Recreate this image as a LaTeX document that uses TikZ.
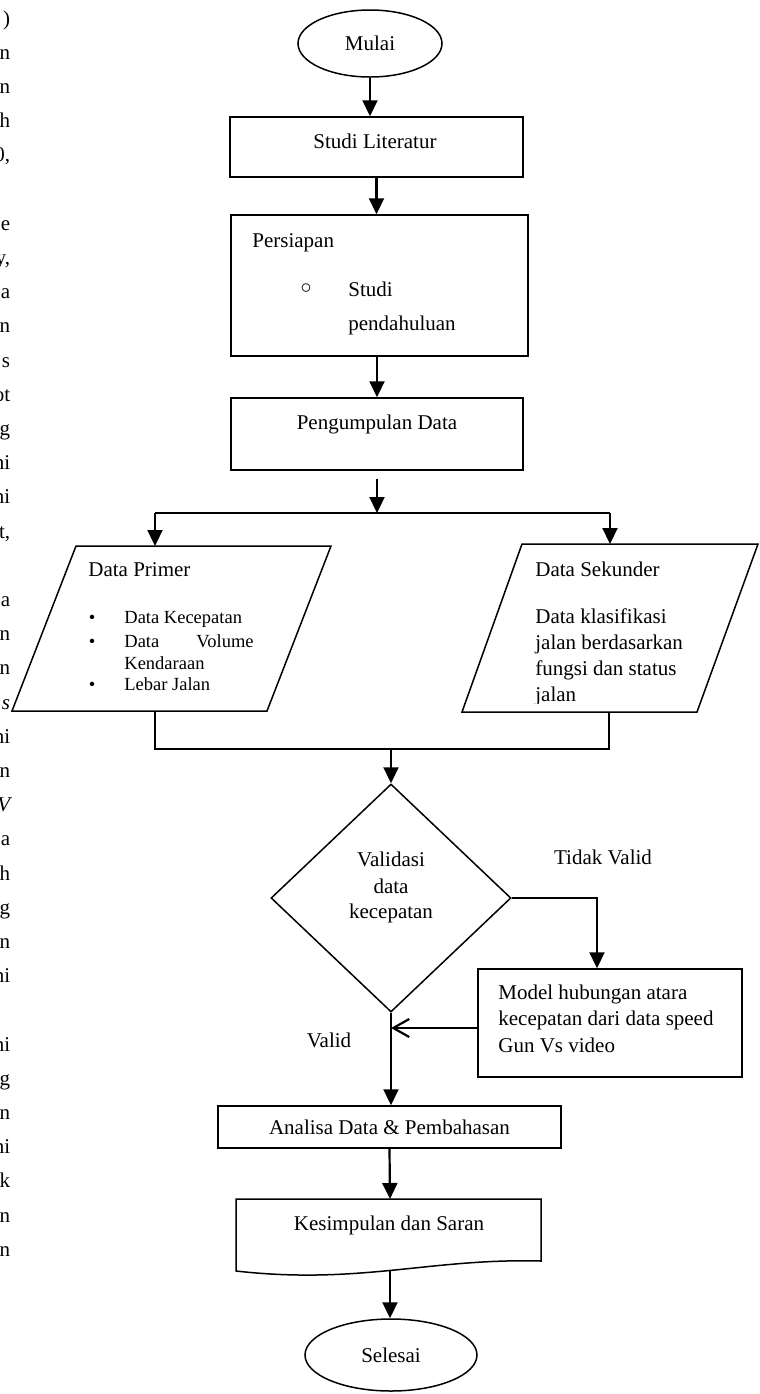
\documentclass[tikz,border=0pt]{standalone}
\usepackage{fontspec}
\setmainfont{Liberation Serif}
\usetikzlibrary{shapes.geometric,arrows.meta}

\begin{document}
\begin{tikzpicture}[
  x = 0.5pt, y = -0.5pt,
  every node/.style = {font = \fontsize{10.5}{12.6}\selectfont, inner sep = 0pt},
  terminal/.style = {draw, ellipse, line width = 0.75pt},
  box/.style = {draw, rectangle, line width = 0.75pt},
  decision/.style = {draw, diamond, line width = 0.75pt, minimum width = 120pt, minimum height = 114pt},
  small/.style = {font = \fontsize{9.25}{11}\selectfont},
  link/.style = {line width = 0.75pt},
  arr/.style = {-{Triangle[length = 8pt, width = 7.5pt]}, line width = 1.1pt},
  back/.style = {-{Straight Barb[length = 8pt, width = 9pt]}, line width = 1.1pt},
  ]
  \useasboundingbox (0,0) rectangle (760,1394);

  \foreach \r/\t in {0/{)},1/n,2/n,3/h,4/{0,},6/e,7/{y,},8/a,9/n,10/s,11/ot,12/g,13/ni,14/ni,15/{t,},
                     17/a,18/n,19/n,20/{\itshape s},21/ni,22/n,23/{\itshape V},24/a,25/h,26/g,27/n,28/ni,
                     30/ni,31/g,32/n,33/ni,34/k,35/n,36/n}
    \node[anchor = base east] (tepi-\r) at (10.5, 25+34.2*\r) {\t};

  \node[terminal, minimum width = 72pt, minimum height = 33.5pt] (mulai) at (370,43.5) {Mulai};

  \node[box, minimum width = 146.5pt, minimum height = 30pt] (studi) at (376.5,147) {};
  \node[anchor = base] (studi-t) at (375,148) {Studi Literatur};

  \node[box, minimum width = 148.5pt, minimum height = 70.5pt] (siap) at (379.5,285.5) {};
  \node[anchor = base west] (siap-t) at (252,247) {Persiapan};
  \node (siap-o) at (306,289) {$\circ$};
  \node[anchor = base west] (siap-a) at (348,296) {Studi};
  \node[anchor = base west] (siap-b) at (348,330) {pendahuluan};

  \node[box, minimum width = 146pt, minimum height = 36pt] (kumpul) at (377,434) {};
  \node[anchor = base] (kumpul-t) at (377,429) {Pengumpulan Data};

  \coordinate (split) at (377,513);
  \coordinate (primer-in) at (155,546);
  \coordinate (primer-out) at (155,711);
  \coordinate (sekunder-in) at (610,544);
  \coordinate (sekunder-out) at (609,712);
  \coordinate (merge) at (391,749);

  \draw[link] (76,546) -- (331,546) -- (267,711) -- (12,711) -- cycle;
  \node[anchor = base west] (primer-t) at (88,576) {Data Primer};
  \node[small, anchor = base] (primer-b1) at (92,623) {\textbullet};
  \node[small, anchor = base] (primer-b2) at (92,647) {\textbullet};
  \node[small, anchor = base] (primer-b3) at (92,690) {\textbullet};
  \node[small, anchor = base west] (primer-1) at (124,623) {Data Kecepatan};
  \node[small, anchor = base west] (primer-2) at (124,647) {Data};
  \node[small, anchor = base east] (primer-3) at (254,647) {Volume};
  \node[small, anchor = base west] (primer-4) at (124,669) {Kendaraan};
  \node[small, anchor = base west] (primer-5) at (124,690) {Lebar Jalan};

  \draw[link] (522,544) -- (758,544) -- (697,712) -- (462,712) -- cycle;
  \node[anchor = base west] (sekunder-t) at (535,576) {Data Sekunder};
  \node[anchor = base west] (sekunder-1) at (535,623) {Data klasifikasi};
  \node[anchor = base west] (sekunder-2) at (535,649) {jalan berdasarkan};
  \node[anchor = base west] (sekunder-3) at (535,675) {fungsi dan status};
  \begin{scope}
    \clip (462,544) rectangle (758,703);
    \node[anchor = base west] (sekunder-4) at (535,701) {jalan};
  \end{scope}

  \node[decision] (valid) at (391,898) {};
  \node[anchor = base] (valid-1) at (391,866) {Validasi};
  \node[anchor = base] (valid-2) at (391,893) {data};
  \node[anchor = base] (valid-3) at (391,918) {kecepatan};
  \node[anchor = base] (tidak) at (603,864) {Tidak Valid};
  \node[anchor = base] (ya) at (329,1047) {Valid};

  \node[box, minimum width = 132pt, minimum height = 54pt] (model) at (610,1023) {};
  \node[anchor = base west] (model-1) at (498,999) {Model hubungan atara};
  \node[anchor = base west] (model-2) at (498,1025) {kecepatan dari data speed};
  \node[anchor = base west] (model-3) at (498,1052) {Gun Vs video};

  \node[box, minimum width = 171.5pt, minimum height = 21pt] (analisa) at (389.5,1127) {Analisa Data \& Pembahasan};

  \draw[link] (236,1199) -- (541,1199) -- (541,1261) .. controls (430,1258) and (360,1285) .. (236,1271) -- cycle;
  \node[anchor = base] (simpul-t) at (389,1230) {Kesimpulan dan Saran};
  \coordinate (simpul-n) at (390,1199);
  \coordinate (simpul-s) at (390,1270);

  \node[terminal, minimum width = 86pt, minimum height = 36pt] (selesai) at (391,1355) {Selesai};

  \draw[arr] (mulai.south) -- (mulai.south |- studi.north);
  \draw[arr] (studi.south) -- (studi.south |- siap.north);
  \draw[arr] (kumpul.north |- siap.south) -- (kumpul.north);
  \draw[arr] ([yshift = -4pt]kumpul.south) -- (split);
  \draw[link] (primer-in |- split) -- (sekunder-in |- split);
  \draw[arr] (primer-in |- split) -- (primer-in);
  \draw[arr] (sekunder-in |- split) -- (sekunder-in);
  \draw[link] (primer-out) -- ++(0,38) -| (sekunder-out);
  \draw[arr] (merge) -- (valid.north);
  \draw[arr] (valid.east) -| ([xshift = -6.5pt]model.north);
  \draw[back] ([yshift = -2.5pt]model.west) -- ([yshift = -2.5pt]model.west -| valid.south);
  \draw[arr] (valid.south) -- (valid.south |- analisa.north);
  \draw[arr] (analisa.south) -- (simpul-n);
  \draw[arr] (simpul-s) -- (simpul-s |- selesai.north);
\end{tikzpicture}
\end{document}
